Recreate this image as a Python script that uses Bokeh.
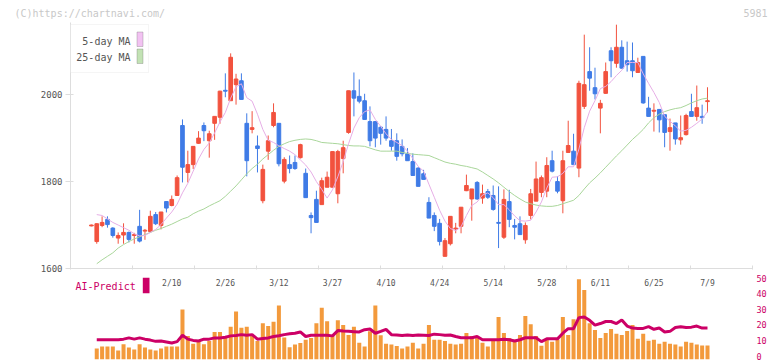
from bokeh.plotting import figure
from bokeh.layouts import column
from bokeh.models import Range1d, FixedTicker, BoxAnnotation, Label, ColumnDataSource, CustomJSTickFormatter
from bokeh.core.properties import value
from bokeh.embed import file_html
from bokeh.resources import INLINE

NaN = float("nan")

# ---------------- data ----------------
opens = [1698, 1662, 1699, 1713, 1693, 1670, 1677, 1683, 1676, 1697,
         1686, 1685, 1724, 1699, 1754, 1745, 1768, 1929, 1821, 1839,
         1888, 1929, 1894, 1934, 1948, 2010, 1986, 2023, 2032, 1934,
         1920, 1882, 1756, 1870, 1929, 1934, 1801, 1839, 1844, 1855,
         1819, 1722, 1759, 1747, 1787, 1787, 1772, 1853, 1913, 2009,
         1996, 1986, 1938, 1938, 1925, 1920, 1894, 1894, 1881, 1864,
         1846, 1831, 1818, 1752, 1722, 1704, 1628, 1657, 1691, 1697,
         1779, 1760, 1798, 1762, 1777, 1768, 1706, 1672, 1754, 1699,
         1703, 1666, 1722, 1755, 1775, 1778, 1848, 1800, 1756, 1867,
         1870, 1831, 1973, 2053, 2016, 1969, 2003, 2101, 2072, 2109,
         2078, 2078, 2051, 2088, 1969, 1962, 1966, 1954, 1915, 1935,
         1896, 1908, 1961, 1950, 1950, 1984]
highs = [1701, 1704, 1720, 1720, 1695, 1683, 1704, 1685, 1682, 1735,
         1691, 1733, 1730, 1730, 1754, 1768, 1814, 1943, 1871, 1881,
         1916, 1936, 1917, 1950, 2009, 2049, 2095, 2048, 2049, 1957,
         1962, 1906, 1839, 1906, 1980, 1934, 1856, 1860, 1860, 1887,
         1830, 1729, 1779, 1809, 1823, 1869, 1873, 1894, 2009, 2051,
         2035, 2002, 1973, 1938, 1928, 1950, 1921, 1911, 1897, 1877,
         1865, 1833, 1827, 1764, 1729, 1714, 1670, 1720, 1705, 1741,
         1816, 1783, 1801, 1793, 1783, 1791, 1789, 1782, 1781, 1714,
         1720, 1706, 1783, 1846, 1814, 1856, 1871, 1812, 1871, 1940,
         1910, 2032, 2138, 2109, 2062, 1988, 2074, 2109, 2161, 2125,
         2122, 2120, 2085, 2088, 1995, 1980, 1966, 1954, 1945, 1935,
         1952, 1956, 2002, 2021, 1977, 2017]
lows = [1697, 1657, 1695, 1694, 1671, 1657, 1657, 1660, 1657, 1660,
        1666, 1683, 1700, 1690, 1729, 1743, 1768, 1798, 1798, 1829,
        1887, 1893, 1855, 1896, 1933, 1994, 1986, 1977, 1989, 1812,
        1911, 1821, 1750, 1850, 1925, 1835, 1796, 1819, 1827, 1853,
        1763, 1681, 1706, 1747, 1787, 1787, 1750, 1819, 1910, 1950,
        1980, 1943, 1881, 1879, 1885, 1894, 1871, 1848, 1858, 1848,
        1814, 1789, 1805, 1716, 1686, 1653, 1628, 1653, 1681, 1681,
        1778, 1710, 1758, 1749, 1760, 1733, 1647, 1668, 1695, 1667,
        1678, 1657, 1713, 1755, 1764, 1764, 1821, 1773, 1727, 1867,
        1839, 1810, 1967, 2009, 1989, 1911, 2002, 2040, 2062, 2060,
        2053, 2040, 2051, 1979, 1950, 1915, 1913, 1879, 1871, 1885,
        1885, 1906, 1950, 1940, 1933, 1959]
closes = [1700, 1703, 1706, 1701, 1676, 1676, 1683, 1667, 1678, 1663,
          1688, 1720, 1703, 1730, 1739, 1759, 1809, 1833, 1839, 1881,
          1900, 1917, 1910, 1950, 2008, 2008, 2086, 2036, 1989, 1848,
          1924, 1876, 1828, 1894, 1959, 1841, 1851, 1830, 1830, 1885,
          1763, 1717, 1706, 1802, 1810, 1869, 1869, 1878, 2009, 1992,
          1985, 1943, 1894, 1900, 1911, 1900, 1881, 1858, 1864, 1848,
          1814, 1789, 1805, 1716, 1697, 1662, 1664, 1720, 1693, 1741,
          1791, 1783, 1760, 1772, 1764, 1736, 1704, 1759, 1713, 1695,
          1678, 1699, 1772, 1806, 1809, 1837, 1824, 1778, 1848, 1883,
          1839, 2026, 2023, 2038, 2002, 1980, 2053, 2078, 2109, 2061,
          2069, 2055, 2074, 1981, 1950, 1964, 1942, 1913, 1924, 1898,
          1901, 1952, 1950, 1970, 1947, 1986]

ma5 = [NaN, 1724, 1722, 1714, 1706, 1700, 1694, 1688, 1680, 1675,
       1676, 1683, 1690, 1701, 1716, 1730, 1748, 1774, 1796, 1824,
       1852, 1874, 1889, 1912, 1937, 1959, 1992, 2018, 2025, 1993,
       1985, 1955, 1920, 1895, 1890, 1882, 1876, 1870, 1862, 1850,
       1838, 1822, 1800, 1782, 1762, 1781, 1811, 1846, 1887, 1923,
       1947, 1961, 1965, 1943, 1927, 1910, 1897, 1890, 1883, 1870,
       1853, 1835, 1824, 1794, 1764, 1734, 1709, 1692, 1687, 1696,
       1722, 1745, 1753, 1769, 1774, 1763, 1747, 1747, 1735, 1721,
       1710, 1709, 1711, 1730, 1753, 1785, 1810, 1811, 1819, 1834,
       1834, 1875, 1924, 1962, 1986, 2014, 2019, 2030, 2044, 2056,
       2074, 2074, 2074, 2048, 2026, 2005, 1982, 1950, 1939, 1928,
       1916, 1918, 1925, 1934, 1944, 1961]
ma25 = [NaN, 1611, 1620, 1628, 1636, 1647, 1655, 1662, 1668, 1673,
        1678, 1683, 1688, 1692, 1697, 1702, 1708, 1714, 1718, 1726,
        1732, 1737, 1744, 1750, 1756, 1766, 1778, 1790, 1804, 1818,
        1830, 1840, 1852, 1862, 1872, 1881, 1887, 1892, 1895, 1897,
        1898, 1897, 1894, 1890, 1889, 1888, 1887, 1885, 1883, 1882,
        1882, 1881, 1877, 1873, 1870, 1870, 1870, 1870, 1867, 1865,
        1863, 1862, 1861, 1860, 1855, 1850, 1845, 1842, 1840, 1837,
        1835, 1832, 1829, 1822, 1814, 1806, 1797, 1787, 1777, 1768,
        1760, 1753, 1749, 1746, 1744, 1743, 1743, 1745, 1749, 1753,
        1757, 1768, 1783, 1797, 1808, 1820, 1833, 1846, 1859, 1871,
        1884, 1897, 1908, 1920, 1935, 1947, 1955, 1961, 1965, 1968,
        1970, 1975, 1981, 1986, 1990, 1992]

volume = [NaN, 4.8, 6.1, 6.1, 6.1, 3.6, 7.5, 5.4, 4.2, 7.5,
          5.4, 4.2, 3.6, 4.8, 6.1, 6.1, 6.1, 29.8, 12.9, 7.9,
          9.6, 7.5, 9.6, 15.4, 15.4, 12.9, 18.8, 28.6, 18.1, 18.8,
          12.9, 9.6, 21.0, 19.2, 21.9, 32.3, 11.9, 5.6, 7.3, 8.3,
          10.4, 11.6, 21.0, 31.0, 22.3, 13.3, 22.9, 19.8, 13.5, 18.8,
          8.5, 6.1, 15.8, 32.3, 13.3, 7.9, 7.3, 6.4, 4.8, 6.1,
          8.5, 4.8, 7.9, 19.8, 10.4, 10.4, 9.6, 7.9, 7.3, 7.9,
          14.8, 12.9, 11.6, 8.5, 6.1, 9.6, 25.0, 14.8, 11.6, 10.4,
          13.5, 25.6, 20.3, 12.9, 6.6, 10.4, 9.2, 10.4, 25.0, 13.5,
          23.6, 49.2, 42.3, 21.0, 16.7, 11.6, 14.8, 17.3, 14.2, 13.5,
          16.0, 19.8, 11.0, 14.2, 9.8, 10.4, 7.9, 9.2, 7.9, 7.3,
          6.1, 9.2, 8.5, 7.3, 6.7, 6.7]
ai_predict = [NaN, 10.4, 10.4, 10.4, 10.4, 10.4, 10.8, 11.6, 10.8, 11.6,
              10.8, 10.2, 9.4, 9.6, 9.0, 8.3, 9.2, 13.3, 10.8, 10.0,
              9.6, 10.8, 10.8, 11.6, 11.6, 12.0, 12.9, 13.1, 13.7, 13.3,
              13.7, 10.8, 11.2, 11.6, 12.5, 13.0, 13.7, 14.2, 14.6, 15.4,
              12.5, 13.3, 13.3, 13.3, 13.3, 12.9, 16.3, 16.0, 15.8, 15.6,
              15.4, 16.9, 17.3, 14.6, 15.8, 17.1, 13.7, 13.5, 13.1, 13.5,
              13.1, 13.5, 13.3, 13.1, 14.0, 13.7, 13.3, 13.5, 12.5, 11.7,
              11.7, 11.7, 12.5, 10.4, 10.4, 10.4, 10.4, 10.8, 10.4, 9.6,
              10.4, 11.7, 11.7, 11.7, 9.2, 11.0, 11.0, 11.0, 14.6, 17.5,
              17.5, 24.6, 25.0, 22.9, 19.8, 20.8, 22.1, 22.1, 20.8, 23.1,
              19.2, 17.9, 17.7, 17.7, 18.8, 17.1, 17.9, 15.4, 15.8, 18.3,
              18.8, 18.3, 18.5, 19.2, 17.9, 17.9]

date_labels = ["2/10", "2/26", "3/12", "3/27", "4/10", "4/24",
               "5/14", "5/28", "6/11", "6/25", "7/9"]
date_index = [15, 25, 35, 45, 55, 65, 75, 85, 95, 105, 115]
price_ticks = [1600, 1800, 2000]
right_ticks = [0, 10, 20, 30, 40, 50]

# ---------------- layout constants ----------------
W = 772
H0, H1, H2 = 22, 252, 87          # header strip, price panel, volume panel
LB, RB = 70, 20
BB = 6
XS, XE = -3.9, 123.4
Y0, Y1 = 1600, 2166
FONT = "DejaVu Sans Mono"
RED, BLUE = "#f2523e", "#3f7be6"
MAGENTA = "#cc0066"
AXIS = "#dddddd"

P_TOP, P_BOT = H0, H0 + H1 - BB            # page y of price frame (22 .. 268)
B_TOP, B_BOT = H0 + H1, H0 + H1 + H2 - 2   # page y of volume frame (274 .. 359)
ZERO_PX, PX_PER_UNIT = 355.5, 1.56
V0 = -(B_BOT - ZERO_PX) / PX_PER_UNIT
V1 = (ZERO_PX - B_TOP) / PX_PER_UNIT


def px_x(px):
    return XS + (px - LB) * (XE - XS) / (W - LB - RB)


def px_y(py):
    return Y0 + (P_BOT - py) * (Y1 - Y0) / (P_BOT - P_TOP)


def px_v(py):
    return V0 + (B_BOT - py) * (V1 - V0) / (B_BOT - B_TOP)


idx = list(range(len(closes)))
colors = [RED if c >= o else BLUE for o, c in zip(opens, closes)]
src = ColumnDataSource(dict(
    x=idx, high=highs, low=lows,
    top=[max(o, c) for o, c in zip(opens, closes)],
    bottom=[min(o, c) for o, c in zip(opens, closes)],
    color=colors))

# ---------------- header strip (its own frame spans the full width) ----------------
h = figure(width=W, height=H0, x_range=Range1d(0, W), y_range=Range1d(H0, 0),
           output_backend="svg", toolbar_location=None, title=None,
           min_border_left=0, min_border_right=0, min_border_top=0, min_border_bottom=0,
           x_axis_location=None, y_axis_location=None, frame_align=False,
           background_fill_color="white", border_fill_color="white")
h.outline_line_color = None
h.xgrid.visible = False
h.ygrid.visible = False
h.add_layout(Label(x=14, y=12.5, text="(C)https://chartnavi.com/", text_align="left",
                   text_baseline="middle", text_font=FONT, text_font_size="10px",
                   text_color="#c8c8c8"))
h.add_layout(Label(x=767, y=12, text="5981", text_align="right",
                   text_baseline="middle", text_font=FONT, text_font_size="10px",
                   text_color="#c8c8c8"))

# ---------------- price panel ----------------
p = figure(width=W, height=H1, x_range=Range1d(XS, XE), y_range=Range1d(Y0, Y1),
           output_backend="svg", toolbar_location=None, title=None,
           min_border_left=LB, min_border_right=RB, min_border_top=0, min_border_bottom=BB,
           background_fill_color="white", border_fill_color="white")
p.outline_line_color = None
p.xgrid.visible = False
p.ygrid.visible = False

p.xaxis.ticker = FixedTicker(ticks=[XS + k * (XE - XS) / 11 for k in range(12)])
p.xaxis.formatter = CustomJSTickFormatter(code="return ''")
p.xaxis.major_label_text_font_size = "0px"
p.xaxis.major_label_standoff = 0
p.xaxis.major_tick_in = 3
p.xaxis.major_tick_out = 1
p.xaxis.axis_line_color = AXIS
p.xaxis.major_tick_line_color = AXIS
p.xaxis.minor_tick_line_color = None

p.yaxis.ticker = FixedTicker(ticks=price_ticks)
p.yaxis.major_label_text_font = FONT
p.yaxis.major_label_text_font_size = "9px"
p.yaxis.major_label_text_color = "#555555"
p.yaxis.major_tick_in = 3
p.yaxis.major_tick_out = 5
p.yaxis.major_label_standoff = 3
p.yaxis.axis_line_color = AXIS
p.yaxis.major_tick_line_color = AXIS
p.yaxis.minor_tick_line_color = None

p.segment(x0="x", y0="high", x1="x", y1="low", line_color="color", line_width=1, source=src)
p.vbar(x="x", top="top", bottom="bottom", width=0.68, fill_color="color",
       line_color="color", line_width=1, source=src)
p.line(idx, ma25, line_color="#a9d69a", line_width=1)
p.line(idx, ma5, line_color="#e6aee6", line_width=1)

p.add_layout(BoxAnnotation(left=px_x(70), right=px_x(148), top=px_y(24), bottom=px_y(72),
                           fill_color="white", fill_alpha=1, line_color=AXIS, line_width=1))
p.add_layout(BoxAnnotation(left=px_x(136.5), right=px_x(142.5), top=px_y(31.5), bottom=px_y(46),
                           fill_color="#f2c2f2", fill_alpha=1, line_color="#666666", line_width=1))
p.add_layout(BoxAnnotation(left=px_x(136.5), right=px_x(142.5), top=px_y(48.5), bottom=px_y(63),
                           fill_color="#c2e2b4", fill_alpha=1, line_color="#666666", line_width=1))
for txt, py in (("5-day MA", 40.7), ("25-day MA", 56.7)):
    p.add_layout(Label(x=px_x(130), y=px_y(py), text=txt, text_align="right",
                       text_baseline="middle", text_font=FONT, text_font_size="10px",
                       text_color="#555555"))

# ---------------- volume / AI panel ----------------
p2 = figure(width=W, height=H2, x_range=p.x_range, y_range=Range1d(V0, V1),
            output_backend="svg", toolbar_location=None, title=None,
            min_border_left=LB, min_border_right=RB, min_border_top=0, min_border_bottom=2,
            x_axis_location=None, y_axis_location="right",
            background_fill_color="white", border_fill_color="white")
p2.outline_line_color = None
p2.xgrid.visible = False
p2.ygrid.visible = False
p2.yaxis.ticker = FixedTicker(ticks=right_ticks)
p2.yaxis.major_label_text_font = FONT
p2.yaxis.major_label_text_font_size = "8.5px"
p2.yaxis.major_label_text_color = MAGENTA
p2.yaxis.axis_line_color = None
p2.yaxis.major_tick_line_color = None
p2.yaxis.minor_tick_line_color = None
p2.yaxis.major_tick_in = 0
p2.yaxis.major_tick_out = 0
p2.yaxis.major_label_standoff = 4

p2.vbar(x=idx, top=volume, bottom=V0, width=0.75, fill_color="#f39a3c", line_color=None)
p2.line(idx, ai_predict, line_color=MAGENTA, line_width=3)
p2.text(x=date_index, y=[px_v(282.5)] * len(date_index), text=date_labels,
        text_align="center", text_baseline="middle", text_font=value(FONT),
        text_font_size=value("8px"), text_color="#555555")
p2.add_layout(Label(x=px_x(75), y=px_v(286), text="AI-Predict", text_align="left",
                    text_baseline="middle", text_font=FONT, text_font_size="10px",
                    text_color=MAGENTA))
p2.add_layout(BoxAnnotation(left=px_x(142.3), right=px_x(149), top=px_v(277.3), bottom=px_v(292.7),
                            fill_color=MAGENTA, fill_alpha=1, line_color=None))

layout = column(h, p, p2)
open("out.html", "w").write(file_html(layout, INLINE))
